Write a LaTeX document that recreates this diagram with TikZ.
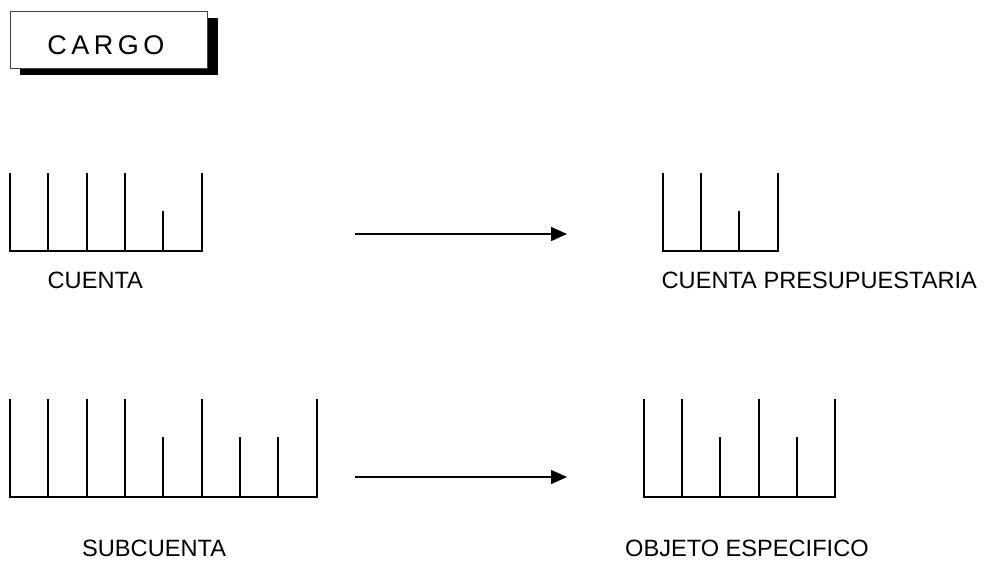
\documentclass[tikz,border=0pt]{standalone}
\usepackage{fontspec}
\setmainfont{Liberation Sans}
\usetikzlibrary{arrows.meta}
\begin{document}
\begin{tikzpicture}[x=1pt,y=-1pt,
  tick/.style={line width=2pt,line cap=rect},
  base/.style={line width=1.8pt},
  conn/.style={line width=1.6pt,-{Triangle[length=16pt,width=14pt]}},
  lbl/.style={inner sep=0pt,anchor=base west,font=\fontsize{23.6}{28}\selectfont}]
\useasboundingbox (0,0) rectangle (989,563);
% CARGO box with shadow
\fill[black] (20,18) rectangle (218,75);
\draw[fill=white,draw=black!75,line width=1pt] (10,11) rectangle (207,68);
\node[inner sep=0pt,font=\fontsize{27}{32}\selectfont] (cargo) at (106,45)
  {C\hspace{4.5pt}A\hspace{4.5pt}R\hspace{4.5pt}G\hspace{4.5pt}O};
% box 1: CUENTA
\draw[base] (10,251) -- (201.7,251);
\foreach \x in {10,48.3,86.7,125,201.7} \draw[tick] (\x,174.3) -- (\x,251);
\draw[tick] (163.3,212.3) -- (163.3,251);
% box 2: CUENTA PRESUPUESTARIA
\draw[base] (662.7,251) -- (778.3,251);
\foreach \x in {662.7,701,778.3} \draw[tick] (\x,174.3) -- (\x,251);
\draw[tick] (739.3,212.3) -- (739.3,251);
% box 3: SUBCUENTA
\draw[base] (10,496.7) -- (316.7,496.7);
\foreach \x in {10,48.3,86.7,125,201.7,316.7} \draw[tick] (\x,400) -- (\x,496.7);
\foreach \x in {163.3,240,278.3} \draw[tick] (\x,438.3) -- (\x,496.7);
% box 4: OBJETO ESPECIFICO
\draw[base] (644,496.7) -- (835,496.7);
\foreach \x in {644,681.7,759,835} \draw[tick] (\x,400) -- (\x,496.7);
\foreach \x in {720,796.7} \draw[tick] (\x,438.3) -- (\x,496.7);
% arrows
\coordinate (a1s) at (355,234);
\coordinate (a1e) at (567,234);
\coordinate (a2s) at (355,477);
\coordinate (a2e) at (567,477);
\draw[conn] (a1s) -- (a1e);
\draw[conn] (a2s) -- (a2e);
% labels
\node[lbl] (cuenta) at (47.5,288) {CUENTA};
\node[lbl] (cpres) at (661.5,288) {CUENTA PRESUPUESTARIA};
\node[lbl] (subc) at (82,556) {SUBCUENTA};
\node[lbl] (objeto) at (625,556) {OBJETO ESPECIFICO};
\end{tikzpicture}
\end{document}
